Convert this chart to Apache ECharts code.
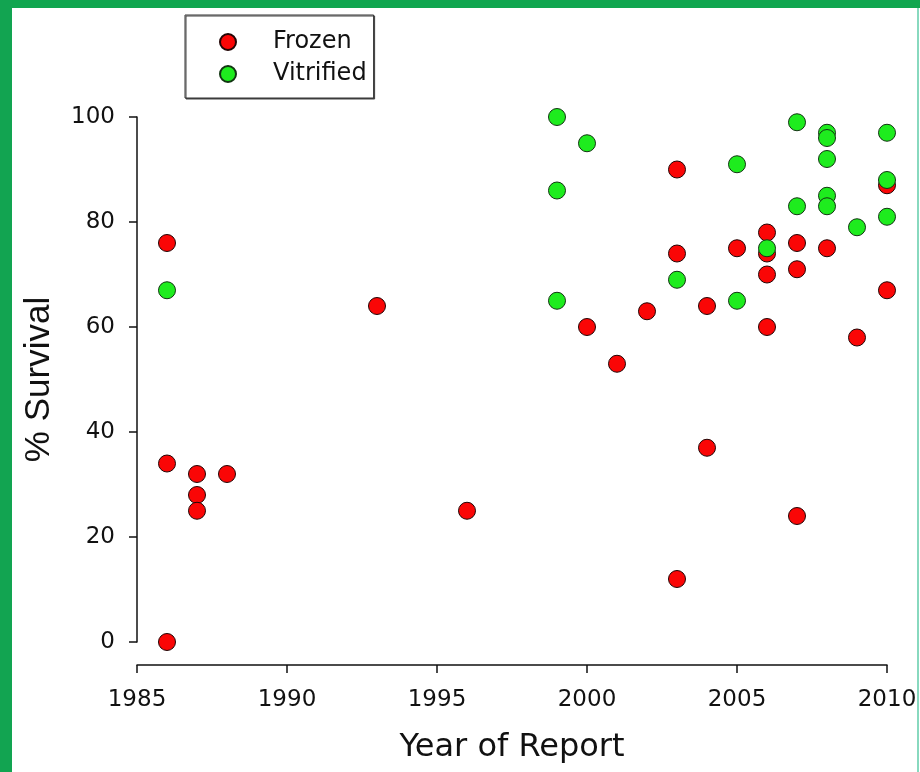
<!DOCTYPE html>
<html>
<head>
<meta charset="utf-8">
<script src="https://cdn.jsdelivr.net/npm/echarts@6/dist/echarts.min.js"></script>
<style>
  html, body { margin: 0; padding: 0; background: #ffffff; }
  #chart { width: 920px; height: 772px; }
</style>
</head>
<body>
<div id="chart"></div>
<script>
// Survival after cryopreservation, by year of report
const frozenYears    = [1986, 1986, 1986, 1987, 1987, 1987, 1988, 1993, 1996, 2000, 2001, 2002, 2003, 2003, 2003, 2004, 2004, 2005, 2006, 2006, 2006, 2006, 2007, 2007, 2007, 2008, 2009, 2010, 2010];
const frozenSurvival = [76,   34,   0,    32,   28,   25,   32,   64,   25,   60,   53,   63,   90,   74,   12,   64,   37,   75,   78,   74,   70,   60,   76,   71,   24,   75,   58,   87,   67];

const vitrifiedYears    = [1986, 1999, 1999, 1999, 2000, 2003, 2005, 2005, 2006, 2007, 2007, 2008, 2008, 2008, 2008, 2008, 2009, 2010, 2010, 2010];
const vitrifiedSurvival = [67,   100,  86,   65,   95,   69,   91,   65,   75,   99,   83,   97,   96,   92,   85,   83,   79,   97,   88,   81];

const seriesNames = ['Frozen', 'Vitrified'];
const xTicks = [1985, 1990, 1995, 2000, 2005, 2010];
const yTicks = [0, 20, 40, 60, 80, 100];

const pairs = (xs, ys) => xs.map((x, i) => [x, ys[i]]);

const FONT = 'DejaVu Sans';
const chart = echarts.init(document.getElementById('chart'), null, { renderer: 'canvas' });

chart.setOption({
  backgroundColor: '#ffffff',
  animation: false,
  grid: { left: 137, right: 33, top: 117, bottom: 130, containLabel: false },
  legend: {
    data: seriesNames,
    orient: 'vertical',
    left: 185,
    top: 15,
    padding: [15, 7, 12, 34],
    icon: 'circle',
    itemWidth: 16,
    itemHeight: 16,
    itemGap: 8,
    selectedMode: false,
    backgroundColor: '#ffffff',
    borderColor: '#333333',
    borderWidth: 1,
    shadowColor: '#444444',
    shadowBlur: 0,
    shadowOffsetX: 1,
    shadowOffsetY: 1,
    textStyle: { fontFamily: FONT, fontSize: 24, color: '#111111', padding: [0, 0, 0, 32] }
  },
  xAxis: {
    type: 'value',
    min: xTicks[0],
    max: xTicks[xTicks.length - 1],
    interval: 5,
    offset: 23,
    name: 'Year of Report',
    nameLocation: 'middle',
    nameGap: 67,
    nameTextStyle: { fontFamily: FONT, fontSize: 32, color: '#111111' },
    splitLine: { show: false },
    axisLine: { show: true, onZero: false, lineStyle: { color: '#111111', width: 1.5 } },
    axisTick: { show: true, inside: false, length: 8, lineStyle: { color: '#111111', width: 1.5 } },
    axisLabel: { margin: 24, fontFamily: FONT, fontSize: 23, color: '#111111', formatter: v => String(v) }
  },
  yAxis: {
    type: 'value',
    min: yTicks[0],
    max: yTicks[yTicks.length - 1],
    interval: 20,
    name: '% Survival',
    nameLocation: 'middle',
    nameGap: 80,
    nameTextStyle: { fontFamily: 'Liberation Sans', fontSize: 35, color: '#111111' },
    splitLine: { show: false },
    axisLine: { show: true, lineStyle: { color: '#111111', width: 1.5 } },
    axisTick: { show: true, inside: false, length: 8, lineStyle: { color: '#111111', width: 1.5 } },
    axisLabel: { margin: 22, fontFamily: FONT, fontSize: 23, color: '#111111' }
  },
  series: [
    {
      name: seriesNames[0],
      type: 'scatter',
      symbol: 'circle',
      symbolSize: 17,
      data: pairs(frozenYears, frozenSurvival),
      itemStyle: { color: '#fa0606', borderColor: '#220505', borderWidth: 1, opacity: 1 },
      z: 2
    },
    {
      name: seriesNames[1],
      type: 'scatter',
      symbol: 'circle',
      symbolSize: 17,
      data: pairs(vitrifiedYears, vitrifiedSurvival),
      itemStyle: { color: '#1eec1e', borderColor: '#123512', borderWidth: 1, opacity: 1 },
      z: 3
    }
  ],
  graphic: [
    // green page frame
    { type: 'rect', z: 100, shape: { x: 0, y: 0, width: 920, height: 8 }, style: { fill: '#10a64f' } },
    { type: 'rect', z: 100, shape: { x: 0, y: 0, width: 12, height: 772 }, style: { fill: '#12a451' } },
    { type: 'rect', z: 100, shape: { x: 917, y: 8, width: 2, height: 764 }, style: { fill: '#88d9bf' } }
  ]
});
</script>
</body>
</html>
